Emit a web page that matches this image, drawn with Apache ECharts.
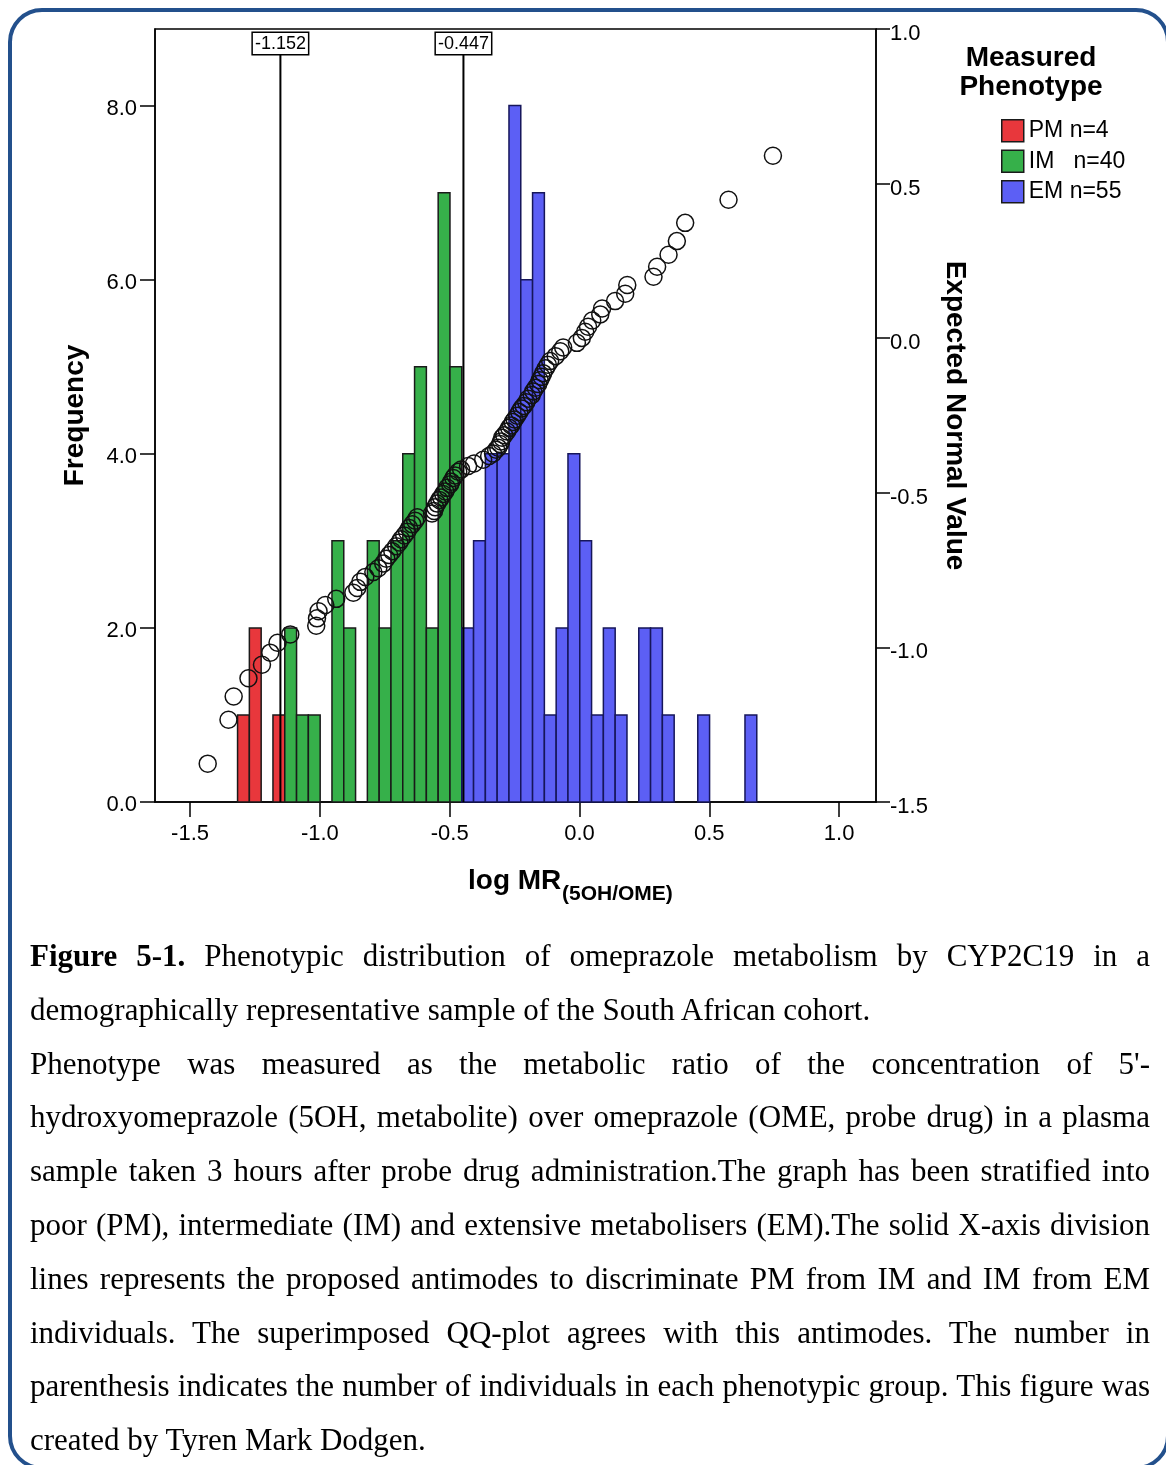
<!DOCTYPE html>
<html>
<head>
<meta charset="utf-8">
<script src="https://cdn.jsdelivr.net/npm/echarts@6/dist/echarts.min.js"></script>
<style>
  html, body { margin: 0; padding: 0; background: #fff; }
  #page { position: relative; width: 1166px; height: 1465px; overflow: hidden; }
  #frame { position: absolute; left: 8px; top: 8px; width: 1162px; height: 1462px; box-sizing: border-box;
           border: 4px solid #23508c; border-radius: 34px; pointer-events: none; }
  #chart { position: absolute; left: 0; top: 0; width: 1166px; height: 930px; }
  #caption { position: absolute; left: 30px; top: 929px; width: 1120px; color: #000;
             font-family: 'Liberation Serif', 'Times New Roman', serif; font-size: 31px; line-height: 53.8px; }
  .j { text-align: justify; text-align-last: justify; }
</style>
</head>
<body>
<div id="page">
  <div id="chart"></div>
  <div id="caption">
    <div class="j"><b>Figure 5-1.</b> Phenotypic distribution of omeprazole metabolism by CYP2C19 in a</div>
    <div>demographically representative sample of the South African cohort.</div>
    <div class="j">Phenotype was measured as the metabolic ratio of the concentration of 5'-</div>
    <div class="j">hydroxyomeprazole (5OH, metabolite) over omeprazole (OME, probe drug) in a plasma</div>
    <div class="j">sample taken 3 hours after probe drug administration.The graph has been stratified into</div>
    <div class="j">poor (PM), intermediate (IM) and extensive metabolisers (EM).The solid X-axis division</div>
    <div class="j">lines represents the proposed antimodes to discriminate PM from IM and IM from EM</div>
    <div class="j">individuals. The superimposed QQ-plot agrees with this antimodes. The number in</div>
    <div class="j">parenthesis indicates the number of individuals in each phenotypic group. This figure was</div>
    <div>created by Tyren Mark Dodgen.</div>
  </div>
  <div id="frame"></div>
</div>
<script>
// histogram bins (log MR), all groups share the same bin grid
var binStart = -1.317;
var binWidth = 0.04545;
var pmCounts = [1, 2, 0, 1];                                   // bins 0-3
var imCounts = [2, 1, 1, 0, 3, 2, 0, 3, 2, 3, 4, 5, 2, 7, 5];  // bins 4-18
var emCounts = [2, 3, 4, 4, 8, 6, 7, 1, 2, 4, 3, 1, 2, 1, 0, 2, 2, 1, 0, 0, 1, 0, 0, 0, 1]; // bins 19-43
var groupNames = ['PM n=4', 'IM   n=40', 'EM n=55'];
var groupColors = ['#e8373c', '#36b04a', '#5c5ff5'];

// antimodes
var antimodes = [-1.152, -0.447];

// QQ plot: observed value vs expected normal value
var qqObserved = [-1.432, -1.352, -1.332, -1.275, -1.223, -1.191, -1.163, -1.114, -1.014, -1.011,
  -1.005, -0.979, -0.937, -0.871, -0.856, -0.844, -0.825, -0.794, -0.775, -0.756,
  -0.744, -0.733, -0.721, -0.706, -0.694, -0.687, -0.675, -0.664, -0.656, -0.644,
  -0.633, -0.625, -0.568, -0.560, -0.556, -0.548, -0.540, -0.533, -0.525, -0.517,
  -0.510, -0.498, -0.494, -0.486, -0.479, -0.467, -0.456, -0.429, -0.406, -0.371,
  -0.348, -0.333, -0.321, -0.313, -0.306, -0.302, -0.298, -0.290, -0.279, -0.271,
  -0.263, -0.257, -0.250, -0.240, -0.232, -0.223, -0.215, -0.205, -0.198, -0.184,
  -0.178, -0.169, -0.159, -0.153, -0.146, -0.140, -0.130, -0.122, -0.113, -0.092,
  -0.074, -0.063, -0.010, 0.009, 0.022, 0.033, 0.049, 0.080, 0.087, 0.137,
  0.176, 0.184, 0.285, 0.299, 0.343, 0.375, 0.407, 0.574, 0.745];
var qqExpected = [-1.376, -1.234, -1.159, -1.100, -1.056, -1.017, -0.985, -0.958, -0.930, -0.906,
  -0.883, -0.863, -0.843, -0.823, -0.808, -0.788, -0.772, -0.756, -0.744, -0.729,
  -0.713, -0.701, -0.689, -0.673, -0.661, -0.650, -0.638, -0.626, -0.614, -0.602,
  -0.590, -0.579, -0.567, -0.559, -0.547, -0.535, -0.523, -0.515, -0.504, -0.496,
  -0.484, -0.472, -0.464, -0.452, -0.444, -0.432, -0.425, -0.413, -0.405, -0.393,
  -0.381, -0.373, -0.361, -0.354, -0.342, -0.334, -0.322, -0.314, -0.302, -0.290,
  -0.282, -0.271, -0.263, -0.251, -0.239, -0.227, -0.219, -0.207, -0.196, -0.184,
  -0.172, -0.160, -0.148, -0.136, -0.125, -0.113, -0.097, -0.086, -0.074, -0.058,
  -0.042, -0.030, -0.015, 0.001, 0.021, 0.037, 0.057, 0.077, 0.096, 0.120,
  0.144, 0.172, 0.199, 0.231, 0.270, 0.314, 0.373, 0.448, 0.590];

// axis ticks
var xTicks = [-1.5, -1.0, -0.5, 0.0, 0.5, 1.0];
var freqTicks = [0, 2, 4, 6, 8];
var xMin = -1.635, xMax = 1.142;
var freqMax = 8.88;

var FONT = "'Liberation Sans', Arial, sans-serif";

function binsFrom(counts, firstBin) {
    var out = [];
    counts.forEach(function (c, i) {
        if (c > 0) {
            var x0 = binStart + (firstBin + i) * binWidth;
            out.push([x0, x0 + binWidth, c]);
        }
    });
    return out;
}

function renderBar(params, api) {
    var p0 = api.coord([api.value(0), 0]);
    var p1 = api.coord([api.value(1), api.value(2)]);
    return {
        type: 'rect',
        shape: { x: p0[0], y: p1[1], width: p1[0] - p0[0], height: p0[1] - p1[1] },
        style: {
            fill: api.visual('color'),
            stroke: params.seriesIndex === 2 ? '#16165a' : '#1a1a1a',
            lineWidth: 1.5
        }
    };
}

function renderAntimode(params, api) {
    var x = api.value(0);
    var base = api.coord([x, 0]);
    var top = api.coord([x, freqMax]);
    return {
        type: 'group',
        children: [
            {
                type: 'line',
                shape: { x1: base[0], y1: base[1], x2: base[0], y2: top[1] + 25 },
                style: { stroke: '#000', lineWidth: 2 }
            },
            {
                type: 'text',
                x: base[0],
                y: top[1] + 4,
                style: {
                    text: x.toFixed(3),
                    fontSize: 18,
                    fontFamily: FONT,
                    fill: '#000',
                    align: 'center',
                    verticalAlign: 'top',
                    backgroundColor: '#fff',
                    borderColor: '#000',
                    borderWidth: 1.5,
                    padding: [2, 2, 1, 2]
                }
            }
        ]
    };
}

function barSeries(idx, counts, firstBin) {
    return {
        type: 'custom',
        name: groupNames[idx],
        renderItem: renderBar,
        itemStyle: { color: groupColors[idx] },
        encode: { x: [0, 1], y: 2 },
        data: binsFrom(counts, firstBin),
        z: 2
    };
}

var chart = echarts.init(document.getElementById('chart'));
var fmt1 = function (v) { return Number(v).toFixed(1); };
var tickLine = { color: '#000', width: 1.5 };

chart.setOption({
    animation: false,
    backgroundColor: 'transparent',
    textStyle: { fontFamily: FONT },
    grid: {
        left: 155, top: 29, width: 721, height: 773,
        show: true, borderColor: '#000', borderWidth: 1.5,
        containLabel: false, outerBoundsMode: 'none'
    },
    legend: {
        data: groupNames,
        orient: 'vertical',
        left: 996,
        top: 114,
        icon: 'rect',
        itemWidth: 22,
        itemHeight: 22,
        itemGap: 7,
        itemStyle: { borderColor: '#1a1a1a', borderWidth: 1.5 },
        textStyle: { fontSize: 23, color: '#000', fontFamily: FONT }
    },
    xAxis: {
        type: 'value',
        min: xMin,
        max: xMax,
        splitLine: { show: false },
        axisLine: { onZero: false, lineStyle: tickLine },
        axisTick: { customValues: xTicks, length: 15, lineStyle: tickLine },
        axisLabel: { customValues: xTicks, formatter: fmt1, fontSize: 22, color: '#000', margin: 21, fontFamily: FONT }
    },
    yAxis: [
        {
            type: 'value',
            position: 'left',
            min: 0,
            max: freqMax,
            splitLine: { show: false },
            axisLine: { show: true, onZero: false, lineStyle: tickLine },
            axisTick: { show: true, customValues: freqTicks, length: 15, lineStyle: tickLine },
            axisLabel: { customValues: freqTicks, formatter: fmt1, fontSize: 22, color: '#000', margin: 18,
                         fontFamily: FONT, verticalAlign: 'top', lineHeight: 6 },
            name: 'Frequency',
            nameLocation: 'middle',
            nameGap: 66,
            nameTextStyle: { fontSize: 28, fontWeight: 'bold', color: '#000', fontFamily: FONT }
        },
        {
            type: 'value',
            position: 'right',
            min: -1.5,
            max: 1.0,
            interval: 0.5,
            splitLine: { show: false },
            axisLine: { show: true, onZero: false, lineStyle: tickLine },
            axisTick: { show: true, length: 14, lineStyle: tickLine },
            axisLabel: { formatter: fmt1, fontSize: 22, color: '#000', margin: 14, fontFamily: FONT,
                         verticalAlign: 'top', lineHeight: 10 },
            name: 'Expected Normal Value',
            nameLocation: 'middle',
            nameRotate: -90,
            nameGap: 65,
            nameTextStyle: { fontSize: 28, fontWeight: 'bold', color: '#000', fontFamily: FONT }
        }
    ],
    graphic: [
        {
            type: 'text', left: 468, top: 867,
            style: { text: 'log MR', font: 'bold 28px ' + FONT, fill: '#000' }
        },
        {
            type: 'text', left: 562, top: 884,
            style: { text: '(5OH/OME)', font: 'bold 21px ' + FONT, fill: '#000' }
        },
        {
            type: 'text', x: 1031, y: 44,
            style: { text: 'Measured\nPhenotype', font: 'bold 28px ' + FONT, lineHeight: 29,
                     align: 'center', verticalAlign: 'top', fill: '#000' }
        }
    ],
    series: [
        barSeries(0, pmCounts, 0),
        barSeries(1, imCounts, 4),
        barSeries(2, emCounts, 19),
        {
            type: 'custom',
            name: 'antimode',
            renderItem: renderAntimode,
            encode: { x: 0 },
            data: antimodes.map(function (v) { return [v]; }),
            z: 3,
            silent: true
        },
        {
            type: 'scatter',
            name: 'QQ',
            yAxisIndex: 1,
            data: qqObserved.map(function (x, i) { return [x, qqExpected[i]]; }),
            symbol: 'circle',
            symbolSize: 17,
            itemStyle: { color: 'rgba(0,0,0,0)', borderColor: '#111', borderWidth: 1.5, opacity: 1 },
            z: 5,
            silent: true
        }
    ]
});
</script>
</body>
</html>
